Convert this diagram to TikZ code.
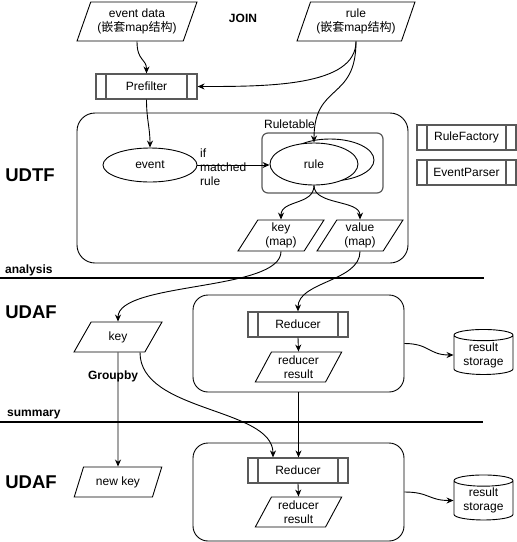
\documentclass[tikz,border=0pt]{standalone}
\usepackage{fontspec}
\setmainfont{Liberation Sans}
\newfontfamily\cjkfont{Noto Sans CJK SC}
\usetikzlibrary{shapes.geometric,arrows.meta,calc}
\begin{document}
\begin{tikzpicture}[x=1pt,y=-1pt,
  every node/.style={font=\fontsize{12}{14}\selectfont, inner sep=0pt, align=center},
  lbl/.style={font=\bfseries\fontsize{12}{14}\selectfont},
  biglbl/.style={font=\bfseries\fontsize{18.5}{20}\selectfont},
  arr/.style={line width=0.9pt, -{Stealth[length=7pt,width=6pt]}},
  para/.style={draw, line width=0.9pt, trapezium, trapezium left angle=62, trapezium right angle=118,
    trapezium stretches=true, minimum width=#1, minimum height=30pt},
  procbox/.style={draw=black!65, line width=1.2pt, minimum width=#1, minimum height=25pt,
    path picture={\draw[black!65, line width=1.2pt]
      ([xshift=10pt]path picture bounding box.north west) -- ([xshift=10pt]path picture bounding box.south west)
      ([xshift=-10pt]path picture bounding box.north east) -- ([xshift=-10pt]path picture bounding box.south east);}},
  ell/.style={draw, line width=0.9pt, ellipse, fill=white},
  bigbox/.style={draw, line width=0.9pt, rounded corners=#1},
  cyl/.style={draw, line width=0.9pt, cylinder, shape border rotate=90, aspect=0.28,
    minimum width=59pt, minimum height=45pt},
  sep/.style={line width=2pt}
]
\useasboundingbox (0,0) rectangle (517,542);

% top inputs
\node[para=120, minimum height=39pt, trapezium left angle=65, trapezium right angle=115] (ed) at (137,21.5)
  {event data\\({\cjkfont 嵌套}map{\cjkfont 结构})};
\node[lbl] (join) at (243,18) {JOIN};
\node[para=118, minimum height=39pt, trapezium left angle=65, trapezium right angle=115] (rl) at (356,21.5)
  {rule\\({\cjkfont 嵌套}map{\cjkfont 结构})};
\node[procbox=101] (pf) at (146.5,86.5) {Prefilter};

% UDTF
\node[biglbl] (udtf) at (30,175) {UDTF};
\node[bigbox=18pt, minimum width=331pt, minimum height=150pt] (udtfbox) at (242.5,188) {};
\node[ell, minimum width=94pt, minimum height=34pt] (ev) at (150,165) {event};
\node[draw=black!65, line width=1.2pt, rounded corners=6pt, minimum width=121pt, minimum height=60pt] (rt) at (322.5,163) {};
\node (rtl) at (289.5,124.5) {Ruletable};
\node[ell, minimum width=88pt, minimum height=42pt] (rback) at (330,160) {};
\node[ell, minimum width=88pt, minimum height=42pt] (rule) at (314,164) {rule};
\node[anchor=west, align=left, font=\fontsize{12}{14}\selectfont] (cond) at (200,167) {if\\matched\\rule};
\node[procbox=99] (rf) at (466.5,137.5) {RuleFactory};
\node[procbox=99] (ep) at (466.5,172.5) {EventParser};
\node[para=86, minimum height=31pt] (km) at (281,235.5) {key\\(map)};
\node[para=86, minimum height=31pt] (vm) at (360,235.5) {value\\(map)};

% analysis separator
\coordinate (a1) at (0,278);
\coordinate (a2) at (484,278);
\draw[sep] (a1) -- (a2);
\node[lbl, anchor=west] (analysis) at (5,270) {analysis};

% UDAF 1
\node[biglbl] (udaf1) at (31,312) {UDAF};
\node[para=88] (key) at (118,337) {key};
\node[lbl] (groupby) at (113,376) {Groupby};
\node[bigbox=15pt, minimum width=211pt, minimum height=97pt] (ub1) at (298.5,343.5) {};
\node[procbox=100] (red1) at (298,324.5) {Reducer};
\node[para=87] (rr1) at (298.5,367) {reducer\\result};
\node[cyl] (cyl1) at (483.5,355) {result\\storage};

% summary separator
\coordinate (s1) at (0,422);
\coordinate (s2) at (483,422);
\draw[sep] (s1) -- (s2);
\node[lbl, anchor=west] (summary) at (7,415) {summary};

% UDAF 2
\node[biglbl] (udaf2) at (31,482) {UDAF};
\node[para=88] (nk) at (118,482) {new key};
\node[bigbox=15pt, minimum width=211pt, minimum height=98pt] (ub2) at (298.5,492) {};
\node[procbox=100] (red2) at (298,470.5) {Reducer};
\node[para=87] (rr2) at (298.5,512) {reducer\\result};
\node[cyl] (cyl2) at (483.5,500.5) {result\\storage};

% connectors
\draw[arr] (ed.center |- ed.south) .. controls +(0,20) and +(0,-15) .. (pf.north);
\draw[arr] (rl.center |- rl.south) .. controls +(0,45) and +(70,0) .. (pf.east);
\draw[arr] (rl.center |- rl.south) .. controls +(0,60) and +(0,-60) .. (rule.north);
\draw[arr] (pf.south) .. controls +(0,20) and +(0,-20) .. (ev.north);
\draw[arr] (ev.east) -- (ev.east -| rule.west);
\draw[arr] (rule.south) .. controls +(0,20) and +(0,-20) .. (km.north);
\draw[arr] (rule.south) .. controls +(0,20) and +(0,-20) .. (vm.north);
\draw[arr] (km.south) .. controls +(0,40) and +(0,-40) .. (key.north);
\draw[arr] (vm.south) .. controls +(0,30) and +(0,-30) .. (red1.north);
\draw[arr] (red1.south) -- (rr1.north);
\draw[arr] (ub1.east) .. controls +(25,0) and +(-25,0) .. (cyl1.west);
\draw[arr] (key.south) -- (nk.north);
\draw[arr] ([xshift=22pt]key.south) .. controls +(0,60) and +(0,-50) .. ([xshift=-25pt]red2.north);
\draw[arr] (ub1.south) -- (ub1.south |- red2.north);
\draw[arr] (red2.south) -- (rr2.north);
\draw[arr] (ub2.east) .. controls +(25,0) and +(-25,0) .. (cyl2.west);
\end{tikzpicture}
\end{document}
